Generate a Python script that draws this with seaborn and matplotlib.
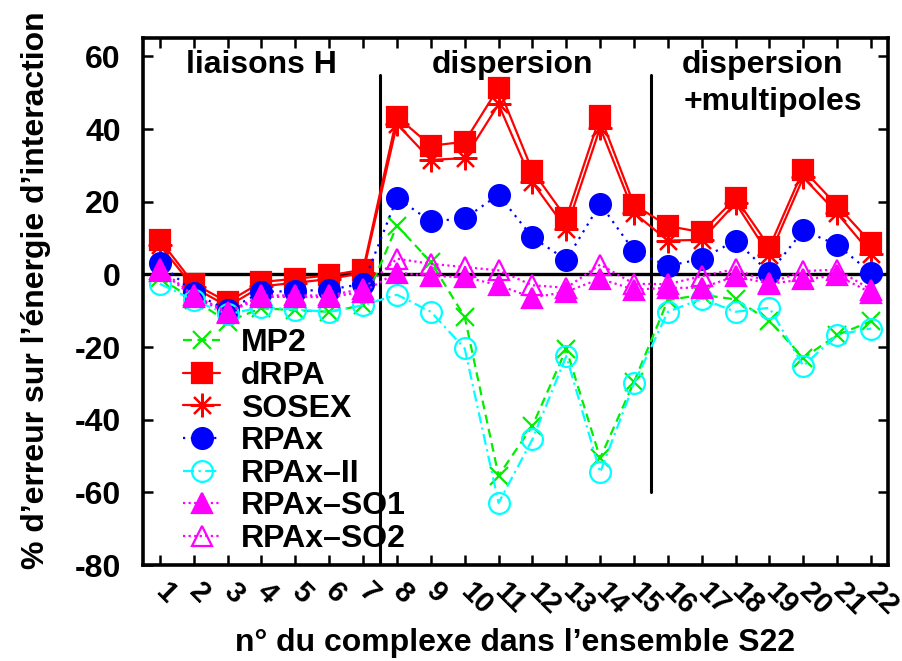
import numpy as np
import pandas as pd
import matplotlib
matplotlib.use("Agg")
import matplotlib.pyplot as plt
import matplotlib.transforms as mtransforms
import seaborn as sns
from matplotlib.lines import Line2D

# ---- data ----
complexes = list(range(1, 23))
mp2 = [-1.0, -7.0, -13.0, -9.3, -9.9, -10.3, -8.5, 13.4, 3.4, -11.7, -55.4, -41.7, -20.5,
       -50.6, -29.6, -7.1, -5.6, -6.9, -12.8, -23.0, -16.7, -12.9]
drpa = [9.5, -2.6, -7.6, -2.1, -1.2, -0.3, 1.3, 43.4, 35.4, 36.5, 51.4, 28.5, 15.5,
        43.6, 19.2, 13.3, 11.6, 21.0, 7.5, 28.8, 18.9, 8.7]
sosex = [8.0, -3.6, -8.8, -3.3, -2.3, -1.3, 0.4, 41.4, 31.5, 32.0, 46.8, 25.3, 12.5,
         40.4, 16.9, 9.3, 9.5, 19.6, 5.2, 26.7, 16.8, 5.7]
rpax = [3.2, -5.1, -9.9, -4.8, -4.6, -4.2, -2.6, 21.0, 14.6, 15.4, 21.9, 10.2, 4.0,
        19.4, 6.4, 2.3, 4.3, 9.3, 0.4, 12.1, 8.1, 0.4]
rpax_ii = [-2.6, -7.1, -11.0, -9.0, -9.7, -10.3, -8.5, -5.6, -10.3, -20.4, -62.9, -45.4,
           -22.5, -54.5, -30.0, -10.3, -6.7, -10.3, -9.2, -25.2, -16.6, -14.9]
rpax_so1 = [1.0, -6.2, -10.6, -6.2, -6.2, -6.3, -4.8, 0.5, -0.5, -0.7, -3.0, -6.4, -4.8,
            -1.2, -4.2, -3.7, -3.7, -0.5, -2.6, -1.4, -0.3, -5.1]
rpax_so2 = [1.5, -5.8, -10.3, -5.8, -5.8, -5.8, -4.0, 4.3, 2.9, 2.0, 1.1, -3.0, -3.7,
            2.7, -2.6, -2.7, -0.5, 1.5, -2.4, 0.9, 1.3, -4.2]

series_names = ["MP2", "dRPA", "SOSEX", "RPAx", "RPAx\u2013II", "RPAx\u2013SO1", "RPAx\u2013SO2"]
series_values = [mp2, drpa, sosex, rpax, rpax_ii, rpax_so1, rpax_so2]
tick_labels = [str(c) for c in complexes]
ytick_values = [-80, -60, -40, -20, 0, 20, 40, 60]

df = pd.DataFrame({"complexe": complexes * len(series_names),
                   "methode": np.repeat(series_names, len(complexes)),
                   "erreur": np.concatenate(series_values)})

# ---- style ----
sns.set_style("white")
plt.rcParams["font.family"] = ["Liberation Sans", "DejaVu Sans"]
plt.rcParams["font.weight"] = "bold"
plt.rcParams["axes.labelweight"] = "bold"
for k in ["text.color", "axes.labelcolor", "xtick.color", "ytick.color"]:
    plt.rcParams[k] = "black"

FS = 23

styles = {
    "MP2": dict(color="#00ee00", marker="x", linestyle=(0, (4, 2.5)), mfc="#00ee00", ms=13, mew=1.6),
    "dRPA": dict(color="#ff0000", marker="s", linestyle="-", mfc="#ff0000", ms=15, mew=1.6),
    "SOSEX": dict(color="#ff0000", marker=(8, 2, 0), linestyle="-", mfc="#ff0000", ms=17, mew=1.6),
    "RPAx": dict(color="#0000ff", marker="o", linestyle=(0, (1, 2.5)), mfc="#0000ff", ms=15, mew=1.6),
    "RPAx\u2013II": dict(color="#00ffff", marker="o", linestyle=(0, (5, 2, 1, 2)), mfc="none", ms=15, mew=1.6),
    "RPAx\u2013SO1": dict(color="#ff00ff", marker="^", linestyle=(0, (1, 1.5)), mfc="#ff00ff", ms=15, mew=1.6),
    "RPAx\u2013SO2": dict(color="#ff00ff", marker="^", linestyle=(0, (1, 1.5)), mfc="none", ms=15, mew=1.6),
}

fig = plt.figure(figsize=(9.02, 6.61), dpi=100)
ax = fig.add_axes([0.1585, 0.1452, 0.826, 0.797])

handles = []
for name in series_names:
    st = styles[name]
    sub = df[df["methode"] == name]
    sns.lineplot(data=sub, x="complexe", y="erreur", ax=ax, color=st["color"],
                 marker=st["marker"], linestyle=st["linestyle"], linewidth=1.6,
                 markerfacecolor=st["mfc"], markeredgecolor=st["color"],
                 markersize=st["ms"], markeredgewidth=st["mew"], legend=False)
    handles.append(Line2D([], [], color=st["color"], marker=st["marker"], linestyle=st["linestyle"],
                          linewidth=1.6, markerfacecolor=st["mfc"], markeredgecolor=st["color"],
                          markersize=st["ms"], markeredgewidth=st["mew"], label=name))

ax.axhline(0, color="black", linewidth=2.4, zorder=1)
ax.plot([7.5, 7.5], [55, -80], color="black", linewidth=2.2, zorder=1)
ax.plot([15.5, 15.5], [55, -60], color="black", linewidth=2.2, zorder=1)

ax.set_xlim(0.5, 22.5)
ax.set_ylim(-80, 65)
ax.set_xticks(complexes)
ax.set_xticklabels(tick_labels, rotation=-45, ha="left", va="center",
                   rotation_mode="anchor", fontsize=21, fontweight="bold")
offset = mtransforms.ScaledTranslation(-9 / 100, 0, fig.dpi_scale_trans)
for lab in ax.get_xticklabels():
    lab.set_transform(lab.get_transform() + offset)
ax.set_yticks(ytick_values)
ax.set_yticklabels([str(v) for v in ytick_values], fontsize=FS, fontweight="bold")
ax.tick_params(axis="both", direction="in", length=7, width=1.8, top=True, right=True,
               bottom=True, left=True)
ax.tick_params(axis="x", pad=16)
ax.tick_params(axis="y", pad=16)
for sp in ax.spines.values():
    sp.set_linewidth(2.6)
    sp.set_color("black")

ax.set_xlabel("n° du complexe dans l\u2019ensemble S22", fontsize=FS, fontweight="bold", labelpad=6)
ax.set_ylabel("% d\u2019erreur sur l\u2019\u00e9nergie d\u2019interaction", fontsize=FS,
              fontweight="bold")
ax.yaxis.set_label_coords(-0.124, 0.522)

ax.text(4.0, 57.5, "liaisons H", ha="center", va="center", fontsize=FS, fontweight="bold")
ax.text(11.4, 57.5, "dispersion", ha="center", va="center", fontsize=FS, fontweight="bold")
ax.text(18.8, 57.5, "dispersion", ha="center", va="center", fontsize=FS, fontweight="bold")
ax.text(19.1, 47.5, "+multipoles", ha="center", va="center", fontsize=FS, fontweight="bold")

leg = ax.legend(handles=handles, loc="upper left", bbox_to_anchor=(0.054, 0.449),
                frameon=False, fontsize=FS, handlelength=1.15, handletextpad=0.65,
                labelspacing=0.08, borderpad=0, borderaxespad=0)
for t in leg.get_texts():
    t.set_fontweight("bold")

fig.savefig("out.png", dpi=100)
